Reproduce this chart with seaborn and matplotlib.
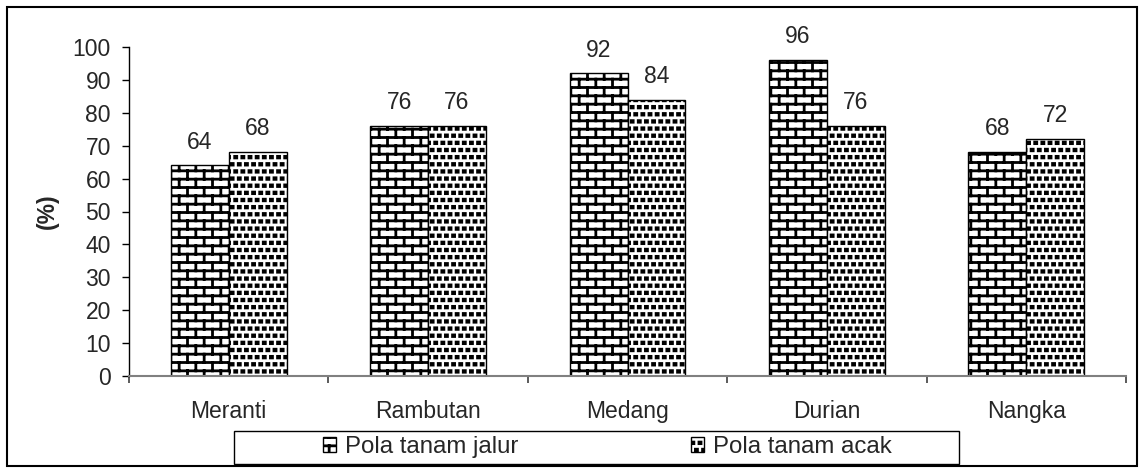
import numpy as np
import pandas as pd
import matplotlib
matplotlib.use("Agg")
import matplotlib.pyplot as plt
import matplotlib.hatch as mhatch
from matplotlib.path import Path
from matplotlib.patches import Patch, Rectangle
from matplotlib.ticker import FixedLocator
import seaborn as sns

# ---------------- data ----------------
species = ["Meranti", "Rambutan", "Medang", "Durian", "Nangka"]
jalur = [64, 76, 92, 96, 68]
acak = [68, 76, 84, 76, 72]
series_names = ["Pola tanam jalur", "Pola tanam acak"]
yticks = list(range(0, 101, 10))
ylabel = "(%)"

FS = 16.5
LFS = 17.3


# ---------------- custom hatches (brick + square dots) ----------------
class BrickHatch(mhatch.HatchPatternBase):
    rows = 12
    cols = 6

    def __init__(self, hatch, density):
        self.on = '+' in hatch
        n = self.rows * 2 + self.rows * self.cols * 2 + self.cols * 2
        self.num_vertices = n if self.on else 0

    def set_vertices_and_codes(self, vertices, codes):
        v, c = [], []
        for k in range(self.rows):
            y = (k + 0.5) / self.rows
            v += [(-0.05, y), (1.05, y)]
            c += [Path.MOVETO, Path.LINETO]
            y2 = (k + 1.5) / self.rows
            shift = 0.25 if k % 2 == 0 else 0.75
            for j in range(self.cols):
                x = (j + shift) / self.cols
                v += [(x, y), (x, y2)]
                c += [Path.MOVETO, Path.LINETO]
        for j in range(self.cols):
            x = (j + 0.75) / self.cols
            v += [(x, -0.5 / self.rows), (x, 0.5 / self.rows)]
            c += [Path.MOVETO, Path.LINETO]
        vertices[:] = np.array(v, float)
        codes[:] = np.array(c, dtype=Path.code_type)


class SquareDots(mhatch.Shapes):
    filled = True
    size = 0.11
    shape_vertices = np.array([[-1.3, -1], [1.3, -1], [1.3, 1], [-1.3, 1], [-1.3, -1]], float)
    shape_codes = np.array([Path.MOVETO, Path.LINETO, Path.LINETO, Path.LINETO, Path.CLOSEPOLY],
                           dtype=Path.code_type)

    def __init__(self, hatch, density):
        self.num_rows = 14 if '.' in hatch else 0
        super().__init__(hatch, density)


mhatch._hatch_types = [BrickHatch, SquareDots]

# ---------------- style ----------------
sns.set_theme(style="white")
plt.rcParams["font.family"] = ["Liberation Sans", "DejaVu Sans"]
plt.rcParams["hatch.linewidth"] = 2.0
plt.rcParams["hatch.color"] = "black"

df = pd.DataFrame({
    "species": species * 2,
    "value": jalur + acak,
    "pola": [series_names[0]] * len(species) + [series_names[1]] * len(species),
})

fig = plt.figure(figsize=(11.44, 4.72), dpi=100)
ax = fig.add_axes([129 / 1144, 1 - 376 / 472, 997 / 1144, 329 / 472])

sns.barplot(data=df, x="species", y="value", hue="pola", hue_order=series_names,
            palette=["white", "white"], saturation=1, edgecolor="black", linewidth=1.0,
            width=0.58, gap=0, legend=False, errorbar=None, ax=ax)

hatches = ["+", "."]
for cont, h in zip(ax.containers, hatches):
    for p in cont.patches:
        p.set_hatch(h)
        p.set_facecolor("white")
        p.set_edgecolor("black")
    ax.bar_label(cont, labels=[f"{v:g}" for v in cont.datavalues], padding=8.5, fontsize=FS)

ax.set_xlim(-0.5, len(species) - 0.5)
ax.set_ylim(0, 100)
ax.set_yticks(yticks)
ax.set_yticklabels([str(t) for t in yticks], fontsize=FS)
ax.set_xlabel("")
ax.set_ylabel(ylabel, fontsize=FS, fontweight="bold")
ax.yaxis.set_label_coords(-0.07, 0.5)

for s in ["top", "right"]:
    ax.spines[s].set_visible(False)
ax.spines["left"].set_color("black")
ax.spines["left"].set_linewidth(1.0)
ax.spines["bottom"].set_color("#808080")
ax.spines["bottom"].set_linewidth(1.5)

ax.tick_params(axis="y", which="major", direction="out", length=5, width=1,
               color="black", pad=8, left=True)
ax.tick_params(axis="x", which="major", length=0, pad=17, labelsize=FS)
ax.xaxis.set_minor_locator(FixedLocator(np.arange(-0.5, len(species), 1.0)))
ax.tick_params(axis="x", which="minor", direction="out", length=5, width=1.2,
               color="#404040", bottom=True)
ax.grid(False)

# legend
handles = [Patch(facecolor="white", edgecolor="black", hatch=h, linewidth=1.0) for h in hatches]
fig.legend(handles, series_names, loc="center left",
           bbox_to_anchor=(323 / 1144, 1 - 447 / 472), ncol=2, frameon=False,
           fontsize=LFS, handlelength=0.54, handleheight=0.54, handletextpad=0.375,
           columnspacing=7.2, borderpad=0, borderaxespad=0)
fig.patches.append(Rectangle((234 / 1144, 1 - 464 / 472), (959 - 234) / 1144, 33 / 472,
                             transform=fig.transFigure, fill=False, edgecolor="black",
                             linewidth=1.0))
# outer chart border
fig.patches.append(Rectangle((7 / 1144, 1 - 466 / 472), (1137 - 7) / 1144, (466 - 7) / 472,
                             transform=fig.transFigure, fill=False, edgecolor="black",
                             linewidth=1.5))

fig.savefig("out.png", dpi=100)
